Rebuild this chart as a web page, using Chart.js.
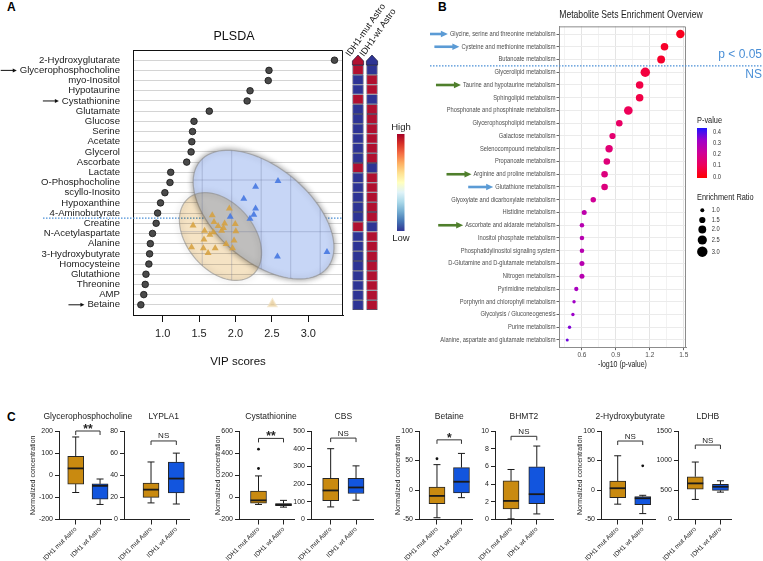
<!DOCTYPE html>
<html>
<head>
<meta charset="utf-8">
<script src="https://cdn.jsdelivr.net/npm/chart.js@4.4.1/dist/chart.umd.min.js"></script>
<style>
  html, body { margin: 0; padding: 0; background: #fff; }
  body { position: relative; width: 763px; height: 561px; overflow: hidden; font-family: 'Liberation Sans', Arial, sans-serif; }
  canvas { position: absolute; }
  .panel { position: absolute; font-weight: bold; font-size: 12px; line-height: 12px; color: #000; }
</style>
</head>
<body>
<div class="panel" style="left:7px;top:1px">A</div>
<div class="panel" style="left:438px;top:1px">B</div>
<div class="panel" style="left:7px;top:411px">C</div>
<script>
Chart.defaults.font.family = "'Liberation Sans', Arial, sans-serif";
Chart.defaults.color = '#222';
Chart.defaults.animation = false;
Chart.defaults.responsive = false;
Chart.defaults.plugins.legend.display = false;
Chart.defaults.plugins.tooltip.enabled = false;

const SANS = "'Liberation Sans', Arial, sans-serif";

// ---------- panel A: VIP scores ----------
const metabolites = ['2-Hydroxyglutarate', 'Glycerophosphocholine', 'myo-Inositol', 'Hypotaurine', 'Cystathionine',
  'Glutamate', 'Glucose', 'Serine', 'Acetate', 'Glycerol', 'Ascorbate', 'Lactate', 'O-Phosphocholine',
  'scyllo-Inosito', 'Hypoxanthine', '4-Aminobutyrate', 'Creatine', 'N-Acetylaspartate', 'Alanine',
  '3-Hydroxybutyrate', 'Homocysteine', 'Glutathione', 'Threonine', 'AMP', 'Betaine'];
const vipScores = [3.36, 2.46, 2.45, 2.20, 2.16, 1.64, 1.43, 1.41, 1.40, 1.39, 1.33, 1.11, 1.10,
  1.03, 0.97, 0.93, 0.91, 0.86, 0.83, 0.82, 0.81, 0.77, 0.76, 0.74, 0.70];
const vipTicks = [1.0, 1.5, 2.0, 2.5, 3.0];
const arrowRowsA = [2, 5, 25];
const cutoffRowA = 16;

// heatmap (1 = high, 0 = low)
const heatGroups = ['IDH1-mut Astro', 'IDH1-wt Astro'];
const heatMutHigh = [1,0,0,1,0,0,0,0,0,0,1,0,0,0,0,0,1,0,0,0,0,0,0,0,0];
const heatWtHigh  = [0,1,1,0,1,1,1,1,1,1,0,1,1,1,1,1,0,1,1,1,1,1,1,1,1];

// PLSDA scores (component 1, component 2)
const scoresMut = [[-0.08,0.45],[-0.66,0.32],[-1.31,0.12],[-0.60,0.19],[-0.24,0.16],[0.12,0.15],[-0.28,0.07],
  [-0.92,0.02],[0.14,0.01],[-0.62,-0.01],[-0.34,0.02],[-0.74,-0.06],[-0.94,-0.15],[0.08,-0.17],[-0.19,-0.24],
  [-1.36,-0.30],[-0.96,-0.32],[-0.56,-0.32],[0.03,-0.32],[-0.80,-0.41],[-0.46,0.11]];
const scoresWt = [[0.81,0.87],[1.57,0.98],[0.41,0.64],[0.81,0.45],[0.75,0.33],[0.62,0.25],[-0.05,0.29],
  [1.55,-0.48],[3.23,-0.39]];
const scoresFaded = [[1.38,-1.40]];
const ellipseWt  = {c: [1.08, 0.33],  a: [2.155, -1.032], b: [-1.024, -0.696]};
const ellipseMut = {c: [-0.38, -0.093], a: [1.089, -0.741], b: [-0.870, -0.416]};

// ---------- panel B: enrichment ----------
const pathways = ['Glycine, serine and threonine metabolism', 'Cysteine and methionine metabolism',
  'Butanoate metabolism', 'Glycerolipid metabolism', 'Taurine and hypotaurine metabolism',
  'Sphingolipid metabolism', 'Phosphonate and phosphinate metabolism', 'Glycerophospholipid metabolism',
  'Galactose metabolism', 'Selenocompound metabolism', 'Propanoate metabolism', 'Arginine and proline metabolism',
  'Glutathione metabolism', 'Glyoxylate and dicarboxylate metabolism', 'Histidine metabolism',
  'Ascorbate and aldarate metabolism', 'Inositol phosphate metabolism', 'Phosphatidylinositol signaling system',
  'D-Glutamine and D-glutamate metabolism', 'Nitrogen metabolism', 'Pyrimidine metabolism',
  'Porphyrin and chlorophyll metabolism', 'Glycolysis / Gluconeogenesis', 'Purine metabolism',
  'Alanine, aspartate and glutamate metabolism'];
const logP = [1.47, 1.33, 1.30, 1.16, 1.11, 1.11, 1.01, 0.93, 0.87, 0.84, 0.82, 0.80, 0.80, 0.70, 0.62,
  0.60, 0.60, 0.60, 0.60, 0.60, 0.55, 0.53, 0.52, 0.49, 0.47];
const enrichRatio = [2.2, 1.9, 2.0, 2.6, 1.9, 1.9, 2.3, 1.6, 1.5, 1.85, 1.6, 1.6, 1.6, 1.3, 1.2,
  1.1, 1.1, 1.1, 1.2, 1.2, 1.05, 0.9, 0.9, 0.9, 0.85];
const logPMajor = [0.6, 0.9, 1.2, 1.5];
const logPMinor = [0.45, 0.75, 1.05, 1.35];
const pLegend = [0.4, 0.3, 0.2, 0.1, 0.0];
const erLegend = [1.0, 1.5, 2.0, 2.5, 3.0];
const blueArrowRows = [1, 2, 13];
const greenArrowRows = [5, 12, 16];
const cutoffRowB = 3;

// ---------- panel C: box plots [min, q1, median, q3, max] ----------
const boxGroups = ['IDH1 mut Astro', 'IDH1 wt Astro'];
const gpcMut = [-78, -40, 31, 86, 173],      gpcWt = [-132, -108, -48, -39, -17];
const lypla1Mut = [15, 20, 27, 33, 52],      lypla1Wt = [14, 24, 37, 52, 60];
const cystaMut = [-64, -52, -27, 57, 194],   cystaWt = [-88, -76, -66, -56, -27];
const cbsMut = [71, 107, 164, 232, 400],     cbsWt = [109, 147, 181, 232, 303];
const betaineMut = [-47, -23, -10, 5, 43],   betaineWt = [-13, -5, 14, 38, 62];
const bhmt2Mut = [0.07, 1.2, 2.1, 4.37, 5.65], bhmt2Wt = [0.63, 1.8, 2.86, 5.95, 8.3];
const hb2Mut = [-24, -13, 3, 15, 58],        hb2Wt = [-40, -25, -14, -11, -9];
const ldhbMut = [340, 515, 612, 725, 974],   ldhbWt = [464, 493, 555, 595, 656];
const cystaOutMut = [261, 436], betaineOutMut = [53], hb2OutWt = [41];

const boxPanels = [
  {title: 'Glycerophosphocholine', mut: gpcMut, wt: gpcWt, outMut: [], outWt: [], sig: '**', bracket: 200, ymin: -200, ymax: 200, step: 100},
  {title: 'LYPLA1', mut: lypla1Mut, wt: lypla1Wt, outMut: [], outWt: [], sig: 'NS', bracket: 71, ymin: 0, ymax: 80, step: 20},
  {title: 'Cystathionine', mut: cystaMut, wt: cystaWt, outMut: cystaOutMut, outWt: [], sig: '**', bracket: 533, ymin: -200, ymax: 600, step: 200},
  {title: 'CBS', mut: cbsMut, wt: cbsWt, outMut: [], outWt: [], sig: 'NS', bracket: 460, ymin: 0, ymax: 500, step: 100},
  {title: 'Betaine', mut: betaineMut, wt: betaineWt, outMut: betaineOutMut, outWt: [], sig: '*', bracket: 85, ymin: -50, ymax: 100, step: 50},
  {title: 'BHMT2', mut: bhmt2Mut, wt: bhmt2Wt, outMut: [], outWt: [], sig: 'NS', bracket: 9.4, ymin: 0, ymax: 10, step: 2},
  {title: '2-Hydroxybutyrate', mut: hb2Mut, wt: hb2Wt, outMut: [], outWt: hb2OutWt, sig: 'NS', bracket: 83, ymin: -50, ymax: 100, step: 50},
  {title: 'LDHB', mut: ldhbMut, wt: ldhbWt, outMut: [], outWt: [], sig: 'NS', bracket: 1262, ymin: 0, ymax: 1500, step: 500}
];
const boxLayout = [
  {axisX: 59, right: 111, xmin: 0.313, xmax: 2.45, yTitleDx: 26},
  {axisX: 124, right: 189, xmin: -0.067, xmax: 2.50},
  {axisX: 239.3, right: 295, xmin: 0.22, xmax: 2.42, yTitleDx: 21},
  {axisX: 310.7, right: 373, xmin: 0.224, xmax: 2.67},
  {axisX: 419.3, right: 473, xmin: 0.266, xmax: 2.43, yTitleDx: 21},
  {axisX: 495, right: 553, xmin: 0.377, xmax: 2.63},
  {axisX: 600.7, right: 655, xmin: 0.333, xmax: 2.49, yTitleDx: 21},
  {axisX: 678.3, right: 732, xmin: 0.312, xmax: 2.42}
];

const RED = '#b01030', BLUE = '#2e3494';
const MUT_FILL = '#c98a10', WT_FILL = '#1255de';

function mk(left, top, w, h) {
  const c = document.createElement('canvas');
  c.width = w; c.height = h;
  c.style.left = left + 'px'; c.style.top = top + 'px';
  document.body.appendChild(c);
  return c;
}

function arrow(ctx, x1, y, x2, color, lw, hl, hw) {
  ctx.save();
  ctx.strokeStyle = color; ctx.fillStyle = color; ctx.lineWidth = lw;
  ctx.beginPath(); ctx.moveTo(x1, y); ctx.lineTo(x2 - hl + 1, y); ctx.stroke();
  ctx.beginPath(); ctx.moveTo(x2, y); ctx.lineTo(x2 - hl, y - hw / 2); ctx.lineTo(x2 - hl, y + hw / 2); ctx.closePath(); ctx.fill();
  ctx.restore();
}

// condensed text (the enrichment panel uses a narrow face)
const SX = 0.82;
function cText(ctx, text, x, y, size, align) {
  ctx.save();
  ctx.translate(x, y); ctx.scale(SX, 1);
  ctx.font = size + 'px ' + SANS; ctx.textAlign = align; ctx.textBaseline = 'middle';
  ctx.fillText(text, 0, 0);
  ctx.restore();
}
function cWidth(ctx, text, size) {
  ctx.save(); ctx.font = size + 'px ' + SANS;
  const w = ctx.measureText(text).width * SX;
  ctx.restore();
  return w;
}

const P_STOPS = [[0.0, [255, 0, 0]], [0.1, [238, 0, 90]], [0.2, [208, 0, 150]], [0.3, [160, 0, 200]], [0.4, [30, 20, 255]]];
function pColor(p) {
  p = Math.min(0.4, Math.max(0, p));
  for (let i = 1; i < P_STOPS.length; i++) {
    const [p0, c0] = P_STOPS[i - 1], [p1, c1] = P_STOPS[i];
    if (p <= p1) {
      const t = (p - p0) / (p1 - p0);
      return 'rgb(' + c0.map((c, k) => Math.round(c + (c1[k] - c) * t)).join(',') + ')';
    }
  }
}
const radiusFor = er => Math.sqrt(Math.max(1, 4 + 11.5 * (er - 1)));

// ================= Panel A =================
const vipPlugin = {
  id: 'vipExtras',
  beforeDatasetsDraw(chart) {
    const {ctx, chartArea: a, scales: {y, xs, ys}} = chart;
    ctx.save();
    const yc = (y.getPixelForValue(cutoffRowA) + y.getPixelForValue(cutoffRowA + 1)) / 2;
    ctx.strokeStyle = '#4a8fd6'; ctx.lineWidth = 1.3; ctx.setLineDash([1.5, 1.5]);
    ctx.beginPath(); ctx.moveTo(43, yc); ctx.lineTo(a.right, yc); ctx.stroke();
    ctx.setLineDash([]);

    const path = e => {
      const p = new Path2D();
      for (let k = 0; k <= 90; k++) {
        const t = k / 90 * 2 * Math.PI;
        const u = e.c[0] + e.a[0] * Math.cos(t) + e.b[0] * Math.sin(t);
        const v = e.c[1] + e.a[1] * Math.cos(t) + e.b[1] * Math.sin(t);
        const px = xs.getPixelForValue(u), py = ys.getPixelForValue(v);
        k ? p.lineTo(px, py) : p.moveTo(px, py);
      }
      p.closePath();
      return p;
    };
    const pw = path(ellipseWt), pm = path(ellipseMut);
    ctx.shadowColor = 'rgba(0,0,0,0.45)'; ctx.shadowBlur = 6;
    ctx.strokeStyle = 'rgba(140,140,140,0.6)'; ctx.lineWidth = 1.2;
    ctx.fillStyle = '#c7d6f6';
    ctx.fill(pw); ctx.stroke(pw);
    ctx.shadowColor = 'transparent';
    ctx.globalCompositeOperation = 'multiply';
    ctx.fillStyle = '#f5e3c4';
    ctx.fill(pm);
    ctx.globalCompositeOperation = 'source-over';
    ctx.shadowColor = 'rgba(0,0,0,0.45)'; ctx.shadowBlur = 6;
    ctx.stroke(pm);
    ctx.shadowColor = 'transparent';
    ctx.save();
    const both = new Path2D(); both.addPath(pw); both.addPath(pm);
    ctx.clip(both, 'nonzero');
    ctx.strokeStyle = 'rgba(90,100,140,0.28)'; ctx.lineWidth = 1;
    for (let g = -3; g <= 3; g++) {
      const px = xs.getPixelForValue(g);
      ctx.beginPath(); ctx.moveTo(px, a.top); ctx.lineTo(px, a.bottom); ctx.stroke();
    }
    for (let g = -1; g <= 3; g++) {
      const py = ys.getPixelForValue(g);
      ctx.beginPath(); ctx.moveTo(a.left, py); ctx.lineTo(a.right, py); ctx.stroke();
    }
    ctx.restore();
    ctx.restore();
  },
  afterDraw(chart) {
    const {ctx, chartArea: a, scales: {y}} = chart;
    ctx.save();
    ctx.strokeStyle = '#111'; ctx.lineWidth = 1;
    ctx.beginPath(); ctx.moveTo(a.left, a.top + 0.5); ctx.lineTo(a.right - 0.5, a.top + 0.5); ctx.lineTo(a.right - 0.5, a.bottom); ctx.stroke();
    ctx.font = '9.6px ' + SANS;
    arrowRowsA.forEach(r => {
      const py = y.getPixelForValue(r);
      const start = 120 - ctx.measureText(metabolites[r - 1]).width;
      arrow(ctx, Math.max(0, start - 19), py, start - 3, '#111', 1, 4, 4);
    });
    ctx.fillStyle = '#111'; ctx.textAlign = 'center'; ctx.textBaseline = 'middle';
    ctx.font = '12.5px ' + SANS;
    ctx.fillText('PLSDA', 234, 37);
    ctx.font = '11.5px ' + SANS;
    ctx.fillText('VIP scores', (a.left + a.right) / 2, 362);
    ctx.restore();
  }
};

new Chart(mk(0, 0, 350, 380), {
  type: 'scatter',
  data: {
    datasets: [
      {data: vipScores.map((v, i) => ({x: v, y: i + 1})), pointRadius: 3.3, backgroundColor: '#4a4a4a',
        borderColor: '#151515', borderWidth: 0.8},
      {data: scoresWt.map(s => ({x: s[0], y: s[1]})), xAxisID: 'xs', yAxisID: 'ys', pointStyle: 'triangle',
        pointRadius: 4, backgroundColor: 'rgba(70,120,225,0.9)', borderWidth: 0},
      {data: scoresMut.map(s => ({x: s[0], y: s[1]})), xAxisID: 'xs', yAxisID: 'ys', pointStyle: 'triangle',
        pointRadius: 4, backgroundColor: 'rgba(214,160,60,0.85)', borderWidth: 0},
      {data: scoresFaded.map(s => ({x: s[0], y: s[1]})), xAxisID: 'xs', yAxisID: 'ys', pointStyle: 'triangle',
        pointRadius: 4.5, backgroundColor: 'rgba(226,196,140,0.7)', borderColor: 'rgba(240,220,180,0.6)', borderWidth: 2}
    ]
  },
  options: {
    layout: {padding: {top: 50, right: 7, left: 0, bottom: 0}},
    scales: {
      x: {type: 'linear', min: 0.592, max: 3.477, offset: false,
        afterBuildTicks: s => { s.ticks = vipTicks.map(v => ({value: v})); },
        ticks: {callback: v => v.toFixed(1), font: {size: 11}, color: '#222', padding: 5, maxRotation: 0, autoSkip: false},
        grid: {drawOnChartArea: false, tickLength: 7, color: '#111'},
        border: {color: '#111', width: 1},
        afterFit: s => { s.height = 65; }},
      y: {type: 'linear', reverse: true, min: 0, max: 26,
        afterBuildTicks: s => { s.ticks = metabolites.map((m, i) => ({value: i + 1})); },
        ticks: {callback: v => metabolites[v - 1], autoSkip: false, font: {size: 9.6}, color: '#222', padding: 13},
        grid: {color: '#d4d4d4', drawTicks: false},
        border: {color: '#111', width: 1},
        afterFit: s => { s.width = 133; }},
      xs: {type: 'linear', axis: 'x', display: false, min: -3.346, max: 3.773},
      ys: {type: 'linear', axis: 'y', display: false, min: -1.611, max: 3.515}
    }
  },
  plugins: [vipPlugin]
});

// heatmap column
const heatPlugin = {
  id: 'heatExtras',
  afterDatasetsDraw(chart) {
    const {ctx, chartArea: a} = chart;
    const bars = chart.getDatasetMeta(0).data;
    ctx.save();
    bars.forEach((bar, i) => {
      const w = bar.width, cx = bar.x;
      ctx.fillStyle = [heatMutHigh, heatWtHigh][i][0] ? RED : BLUE;
      ctx.strokeStyle = '#1c1c3c'; ctx.lineWidth = 0.7;
      ctx.beginPath();
      ctx.moveTo(cx - w / 2, a.top); ctx.lineTo(cx - w / 2, a.top - 4); ctx.lineTo(cx, a.top - 10);
      ctx.lineTo(cx + w / 2, a.top - 4); ctx.lineTo(cx + w / 2, a.top); ctx.closePath();
      ctx.fill(); ctx.stroke();
      ctx.save();
      ctx.translate(cx - 8, a.top - 8);
      ctx.rotate(-55 * Math.PI / 180);
      ctx.fillStyle = '#111'; ctx.font = '9px ' + SANS;
      ctx.textAlign = 'left'; ctx.textBaseline = 'alphabetic';
      ctx.fillText(heatGroups[i], 0, 0);
      ctx.restore();
    });
    const gx = 57, gy0 = 134, gy1 = 231;
    const g = ctx.createLinearGradient(0, gy0, 0, gy1);
    ['#a50026', '#d73027', '#f46d43', '#fdae61', '#fee090', '#ffffbf', '#e0f3f8', '#abd9e9', '#74add1', '#4575b4', '#313695']
      .forEach((c, k) => g.addColorStop(k / 10, c));
    ctx.fillStyle = g; ctx.fillRect(gx, gy0, 7.5, gy1 - gy0);
    ctx.fillStyle = '#222'; ctx.font = '9.5px ' + SANS;
    ctx.textAlign = 'center'; ctx.textBaseline = 'middle';
    ctx.fillText('High', gx + 4, 127);
    ctx.fillText('Low', gx + 4, 238.5);
    ctx.restore();
  }
};

new Chart(mk(340, 0, 80, 330), {
  type: 'bar',
  data: {
    labels: heatGroups,
    datasets: metabolites.map((m, i) => ({
      data: [1, 1],
      backgroundColor: [heatMutHigh[i] ? RED : BLUE, heatWtHigh[i] ? RED : BLUE],
      borderColor: '#1c1c3c', borderWidth: 0.7, borderSkipped: false,
      barPercentage: 1, categoryPercentage: 0.8
    }))
  },
  options: {
    layout: {padding: {top: 65, bottom: 20, left: 11, right: 41}},
    scales: {
      x: {display: false, stacked: true},
      y: {display: false, stacked: true, reverse: true, min: 0, max: 25}
    }
  },
  plugins: [heatPlugin]
});

// ================= Panel B =================
const isMajorB = v => logPMajor.some(m => Math.abs(m - v) < 1e-6);
const bPlugin = {
  id: 'bExtras',
  afterDraw(chart) {
    const {ctx, chartArea: a, scales: {y}} = chart;
    ctx.save();
    ctx.strokeStyle = '#8c8c8c'; ctx.lineWidth = 1;
    ctx.beginPath(); ctx.moveTo(a.left, a.top + 0.5); ctx.lineTo(a.right - 0.5, a.top + 0.5); ctx.lineTo(a.right - 0.5, a.bottom); ctx.stroke();

    // row labels
    ctx.fillStyle = '#4d4d4d';
    const labelRight = a.left - 3.5;
    pathways.forEach((p, i) => cText(ctx, p, labelRight, y.getPixelForValue(i + 1), 7, 'right'));

    ctx.fillStyle = '#222';
    cText(ctx, 'Metabolite Sets Enrichment Overview', 201, 15, 10.5, 'center');
    cText(ctx, '-log10 (p-value)', (a.left + a.right) / 2, 365, 8.5, 'center');

    // arrows
    const drawArrows = (rows, color) => rows.forEach(r => {
      const py = y.getPixelForValue(r);
      const start = labelRight - cWidth(ctx, pathways[r - 1], 7);
      arrow(ctx, start - 27, py, start - 2, color, 2.6, 7, 6.5);
    });
    drawArrows(blueArrowRows, '#5b9bd5');
    drawArrows(greenArrowRows, '#4f7f2c');

    // significance cutoff
    const yc = y.getPixelForValue(cutoffRowB + 0.5);
    ctx.strokeStyle = '#4a8fd6'; ctx.lineWidth = 1.3; ctx.setLineDash([1.5, 1.5]);
    ctx.beginPath(); ctx.moveTo(0, yc); ctx.lineTo(333, yc); ctx.stroke();
    ctx.setLineDash([]);
    ctx.fillStyle = '#4a8fd6'; ctx.textAlign = 'right'; ctx.textBaseline = 'middle';
    ctx.font = '12px ' + SANS;
    ctx.fillText('p < 0.05', 332, 55);
    ctx.fillText('NS', 332, 75);

    // P-value legend
    const lx = 267;
    ctx.fillStyle = '#222';
    cText(ctx, 'P-value', lx, 121, 9, 'left');
    const gy0 = 128, gy1 = 178;
    const g = ctx.createLinearGradient(0, gy0, 0, gy1);
    for (let k = 0; k <= 8; k++) g.addColorStop(k / 8, pColor(0.4 - 0.05 * k));
    ctx.fillStyle = g; ctx.fillRect(lx, gy0, 10, gy1 - gy0);
    ctx.fillStyle = '#333';
    pLegend.forEach(p => cText(ctx, p.toFixed(1), lx + 16, 176.7 - p / 0.4 * 44.7, 7, 'left'));
    // enrichment legend
    ctx.fillStyle = '#222';
    cText(ctx, 'Enrichment Ratio', lx, 197.5, 9, 'left');
    const ly = [210.3, 220, 229.5, 240, 251.7];
    erLegend.forEach((er, k) => {
      ctx.fillStyle = '#000';
      ctx.beginPath(); ctx.arc(lx + 5.3, ly[k], radiusFor(er), 0, 2 * Math.PI); ctx.fill();
      ctx.fillStyle = '#333';
      cText(ctx, er.toFixed(1), lx + 14.7, ly[k], 7, 'left');
    });
    ctx.restore();
  }
};

new Chart(mk(430, 0, 333, 380), {
  type: 'scatter',
  data: {
    datasets: [{
      data: logP.map((v, i) => ({x: v, y: i + 1})),
      pointRadius: enrichRatio.map(radiusFor),
      backgroundColor: logP.map(v => pColor(Math.pow(10, -v))),
      borderWidth: 0
    }]
  },
  options: {
    layout: {padding: {top: 26.35, right: 77, left: 0, bottom: 0}},
    scales: {
      x: {type: 'linear', min: 0.397, max: 1.52,
        afterBuildTicks: s => { s.ticks = logPMinor.concat(logPMajor).sort((p, q) => p - q).map(v => ({value: v})); },
        ticks: {callback: v => isMajorB(v) ? v.toFixed(1) : '', font: {size: 6.5}, color: '#4d4d4d',
          padding: 1, maxRotation: 0, autoSkip: false},
        grid: {color: c => (c.tick && isMajorB(c.tick.value)) ? '#e4e4e4' : '#f2f2f2',
          tickColor: c => (c.tick && isMajorB(c.tick.value)) ? '#666' : 'rgba(0,0,0,0)', tickLength: 2.5},
        border: {color: '#8c8c8c'},
        afterFit: s => { s.height = 380 - 347.65; }},
      y: {type: 'linear', reverse: true, min: 0.4, max: 25.6,
        afterBuildTicks: s => { s.ticks = pathways.map((p, i) => ({value: i + 1})); },
        ticks: {display: false},
        grid: {color: '#ebebeb', tickColor: '#666', tickLength: 2.5},
        border: {color: '#8c8c8c'},
        afterFit: s => { s.width = 129; }}
    }
  },
  plugins: [bPlugin]
});

// ================= Panel C =================
const C_TOP = 405, C_H = 156, C_YW = 34, C_BOTTOM = 519.5, C_PADR = 40;

function boxPlot(p, lay) {
  const w = C_YW + (lay.right - lay.axisX) + C_PADR;
  const extras = {
    id: 'boxExtras',
    afterDatasetsDraw(chart) {
      const {ctx, chartArea: a, scales: {x, y}} = chart;
      ctx.save();
      ctx.strokeStyle = '#1a1a1a';
      const line = (x1, y1, x2, y2, lw) => {
        ctx.lineWidth = lw; ctx.beginPath(); ctx.moveTo(x1, y1); ctx.lineTo(x2, y2); ctx.stroke();
      };
      [p.mut, p.wt].forEach((s, i) => {
        const cx = x.getPixelForValue(i + 1);
        const py = v => y.getPixelForValue(v);
        line(cx, py(s[4]), cx, py(s[3]), 1);
        line(cx, py(s[1]), cx, py(s[0]), 1);
        line(cx - 3.5, py(s[4]), cx + 3.5, py(s[4]), 1);
        line(cx - 3.5, py(s[0]), cx + 3.5, py(s[0]), 1);
        line(cx - 8, py(s[2]), cx + 8, py(s[2]), 1.8);
      });
      const by = y.getPixelForValue(p.bracket), x1 = x.getPixelForValue(1), x2 = x.getPixelForValue(2);
      ctx.lineWidth = 1; ctx.strokeStyle = '#333';
      ctx.beginPath(); ctx.moveTo(x1, by + 4); ctx.lineTo(x1, by); ctx.lineTo(x2, by); ctx.lineTo(x2, by + 4); ctx.stroke();
      ctx.fillStyle = '#222'; ctx.textAlign = 'center'; ctx.textBaseline = 'alphabetic';
      if (p.sig === 'NS') {
        ctx.font = '8px ' + SANS;
        ctx.fillText(p.sig, (x1 + x2) / 2, by - 2.5);
      } else {
        ctx.font = 'bold 12px ' + SANS;
        ctx.fillText(p.sig, (x1 + x2) / 2, by + 2);
      }
      ctx.textBaseline = 'middle';
      ctx.font = '8.5px ' + SANS;
      ctx.fillText(p.title, (x1 + x2) / 2, 416.7 - C_TOP);
      if (lay.yTitleDx) {
        ctx.save();
        ctx.translate(a.left - lay.yTitleDx, (a.top + a.bottom) / 2);
        ctx.rotate(-Math.PI / 2);
        ctx.font = '7px ' + SANS;
        ctx.fillText('Normalized concentration', 0, 0);
        ctx.restore();
      }
      ctx.restore();
    }
  };
  new Chart(mk(lay.axisX - C_YW, C_TOP, w, C_H), {
    type: 'bar',
    data: {
      datasets: [
        {data: [{x: 1, y: [p.mut[1], p.mut[3]]}, {x: 2, y: [p.wt[1], p.wt[3]]}],
          backgroundColor: [MUT_FILL, WT_FILL], borderColor: '#262626', borderWidth: 1, borderSkipped: false,
          barThickness: 16},
        {type: 'scatter',
          data: p.outMut.map(v => ({x: 1, y: v})).concat(p.outWt.map(v => ({x: 2, y: v}))),
          pointRadius: 1.4, backgroundColor: '#111', borderWidth: 0}
      ]
    },
    options: {
      layout: {padding: {top: 26, right: C_PADR, left: 0, bottom: 0}},
      scales: {
        x: {type: 'linear', min: lay.xmin, max: lay.xmax, offset: false,
          afterBuildTicks: s => { s.ticks = [{value: 1}, {value: 2}]; },
          ticks: {callback: v => boxGroups[v - 1], minRotation: 45, maxRotation: 45, autoSkip: false,
            font: {size: 6.5}, color: '#222', padding: 1},
          grid: {drawOnChartArea: false, offset: false, tickLength: 5, color: '#222'},
          border: {color: '#222', width: 1},
          afterFit: s => { s.height = C_H - (C_BOTTOM - C_TOP); }},
        y: {type: 'linear', min: p.ymin, max: p.ymax,
          ticks: {stepSize: p.step, callback: v => v, font: {size: 7}, color: '#222', padding: 2},
          grid: {drawOnChartArea: false, tickLength: 4, color: '#222'},
          border: {color: '#222', width: 1},
          afterFit: s => { s.width = C_YW; }}
      }
    },
    plugins: [extras]
  });
}
boxPanels.forEach((p, i) => boxPlot(p, boxLayout[i]));
</script>
</body>
</html>
